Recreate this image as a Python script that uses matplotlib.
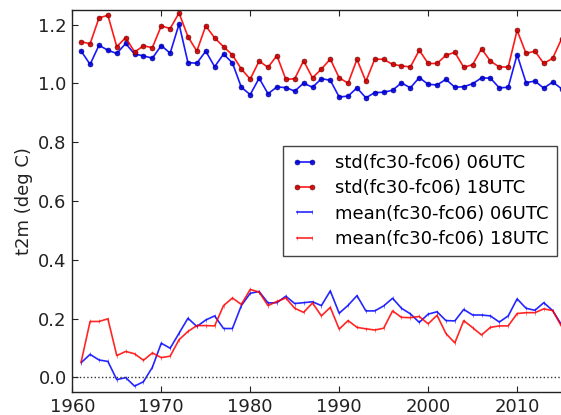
import matplotlib
matplotlib.use("Agg")
import matplotlib.pyplot as plt
import numpy as np

years = list(range(1961, 2016))

std_06 = [1.110, 1.065, 1.130, 1.113, 1.102, 1.136, 1.100, 1.094, 1.086, 1.129,
          1.103, 1.202, 1.071, 1.069, 1.110, 1.057, 1.100, 1.070, 0.987, 0.962,
          1.018, 0.965, 0.988, 0.986, 0.974, 1.001, 0.987, 1.016, 1.011, 0.954,
          0.957, 0.985, 0.951, 0.969, 0.970, 0.977, 1.002, 0.985, 1.020, 0.997,
          0.995, 1.014, 0.987, 0.989, 0.999, 1.019, 1.018, 0.985, 0.987, 1.098,
          1.003, 1.008, 0.984, 1.005, 0.982]

std_18 = [1.142, 1.135, 1.223, 1.232, 1.125, 1.156, 1.107, 1.128, 1.122, 1.196,
          1.187, 1.240, 1.159, 1.110, 1.196, 1.155, 1.125, 1.097, 1.049, 1.015,
          1.076, 1.055, 1.095, 1.014, 1.016, 1.077, 1.019, 1.049, 1.083, 1.019,
          1.001, 1.082, 1.007, 1.083, 1.082, 1.065, 1.060, 1.056, 1.113, 1.068,
          1.068, 1.096, 1.106, 1.055, 1.064, 1.118, 1.076, 1.056, 1.056, 1.181,
          1.102, 1.110, 1.068, 1.086, 1.152]

mean_06 = [0.050, 0.078, 0.059, 0.054, -0.008, -0.001, -0.030, -0.015, 0.034, 0.116,
           0.099, 0.150, 0.201, 0.173, 0.195, 0.209, 0.166, 0.166, 0.244, 0.286,
           0.292, 0.253, 0.254, 0.276, 0.251, 0.254, 0.257, 0.244, 0.294, 0.218,
           0.245, 0.278, 0.226, 0.226, 0.243, 0.269, 0.235, 0.216, 0.187, 0.215,
           0.223, 0.193, 0.192, 0.231, 0.212, 0.212, 0.209, 0.188, 0.209, 0.267,
           0.235, 0.228, 0.254, 0.227, 0.178]

mean_18 = [0.053, 0.190, 0.190, 0.199, 0.074, 0.088, 0.080, 0.058, 0.083, 0.067,
           0.072, 0.128, 0.156, 0.176, 0.176, 0.175, 0.244, 0.270, 0.248, 0.299,
           0.290, 0.244, 0.258, 0.270, 0.235, 0.221, 0.253, 0.209, 0.238, 0.164,
           0.193, 0.170, 0.165, 0.161, 0.167, 0.226, 0.204, 0.203, 0.207, 0.182,
           0.211, 0.149, 0.117, 0.193, 0.169, 0.144, 0.170, 0.175, 0.175, 0.217,
           0.220, 0.220, 0.233, 0.227, 0.173]

labels = ["std(fc30-fc06) 06UTC", "std(fc30-fc06) 18UTC",
          "mean(fc30-fc06) 06UTC", "mean(fc30-fc06) 18UTC"]
xticks = [1960, 1970, 1980, 1990, 2000, 2010]
yticks = [0.0, 0.2, 0.4, 0.6, 0.8, 1.0, 1.2]

W, H = 561, 415
fig = plt.figure(figsize=(W / 100, H / 100), dpi=100, facecolor="white")
left, right, bottom, top = 72.3, 561.6, 392.0, 10.0
ax = fig.add_axes([left / W, (H - bottom) / H, (right - left) / W, (bottom - top) / H])

ax.plot(years, std_06, color="#0000ff", lw=1.2, marker="o", ms=3.6,
        mfc="#0000dd", mec="#000080", mew=0.4, label=labels[0], alpha=0.9)
ax.plot(years, std_18, color="#ff0000", lw=1.2, marker="o", ms=3.6,
        mfc="#cc0000", mec="#600000", mew=0.4, label=labels[1], alpha=0.9)
ax.plot(years, mean_06, color="#0000ff", lw=1.2, marker="|", ms=3,
        mew=0.4, label=labels[2], alpha=0.85)
ax.plot(years, mean_18, color="#ff0000", lw=1.2, marker="|", ms=3,
        mew=0.4, label=labels[3], alpha=0.85)
ax.axhline(0.0, color="#333333", lw=1.0, ls=":")

ax.set_xlim(1960, 2015)
ax.set_ylim(-0.05, 1.25)
ax.set_xticks(xticks)
ax.set_yticks(yticks)
ax.set_yticklabels([f"{v:.1f}" for v in yticks])
ax.tick_params(direction="in", length=4, width=0.8, labelsize=13, pad=4,
               top=True, right=False, colors="#222222")
for s in ["left", "bottom", "top"]:
    ax.spines[s].set_linewidth(1.0)
    ax.spines[s].set_color("#222222")
ax.spines["right"].set_visible(False)

ax.set_ylabel("t2m (deg C)", fontsize=13, color="#222222")
ax.yaxis.set_label_coords(-0.080, 0.5)

leg = ax.legend(loc="center right", fontsize=13, numpoints=2, handlelength=1.45,
                handletextpad=1.0, labelspacing=0.4, borderpad=0.45,
                borderaxespad=0.25, fancybox=False, framealpha=1)
leg.get_frame().set_edgecolor("#444444")
leg.get_frame().set_linewidth(1.0)

fig.savefig("out.png", dpi=100, facecolor="white")
